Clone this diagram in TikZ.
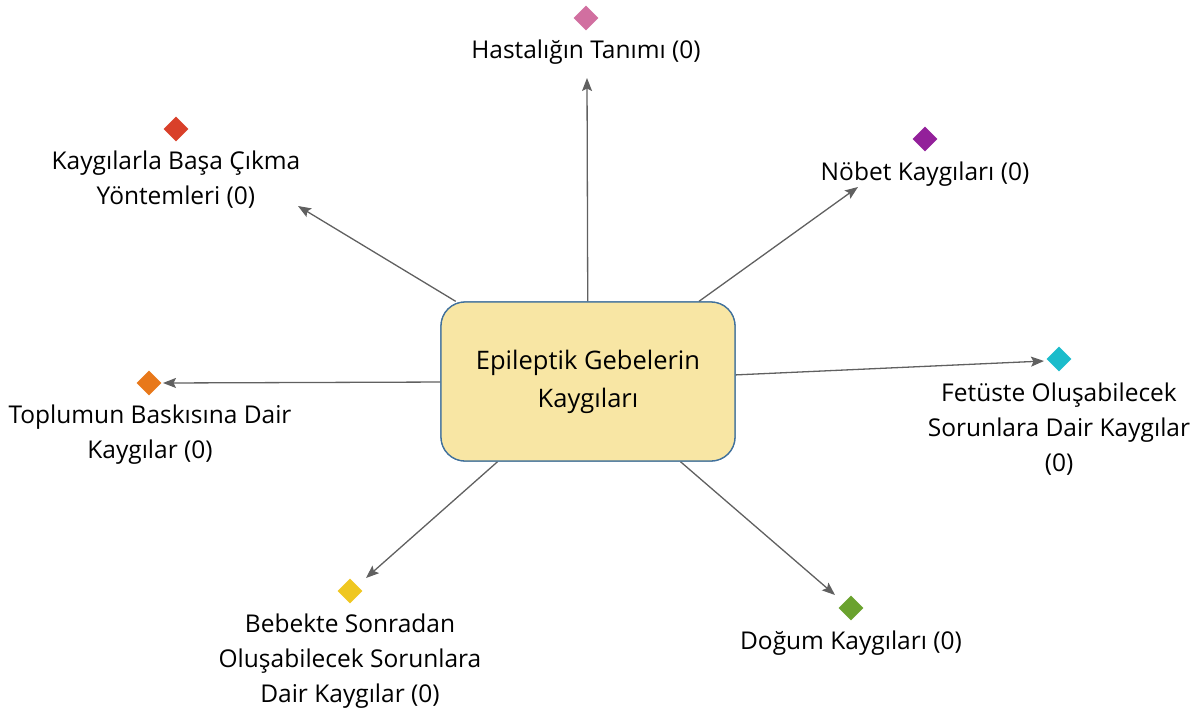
\documentclass[tikz,border=0pt]{standalone}
\usepackage{fontspec}
\setmainfont{Open Sans}
\usetikzlibrary{arrows.meta}
\definecolor{boxfill}{HTML}{F8E6A4}
\definecolor{boxline}{HTML}{41719C}
\definecolor{arr}{HTML}{606060}
\definecolor{cpink}{HTML}{D16FA0}
\definecolor{cred}{HTML}{D9402A}
\definecolor{cpurple}{HTML}{93209A}
\definecolor{corange}{HTML}{E8781A}
\definecolor{ccyan}{HTML}{1BBCCB}
\definecolor{cyellow}{HTML}{EFC720}
\definecolor{cgreen}{HTML}{6AA22E}
\begin{document}
\begin{tikzpicture}[x=1pt,y=-1pt,
  mainbox/.style={draw=boxline,line width=1.3pt,fill=boxfill,rounded corners=24pt,
    minimum width=294pt,minimum height=159pt,align=center,inner sep=0pt,
    font=\fontsize{25.5}{38}\selectfont},
  dmd/.style={fill=#1,minimum size=17.5pt,inner sep=0pt,rotate=45},
  lbl/.style={align=center,inner sep=0pt,font=\fontsize{24.5}{35}\selectfont},
  link/.style={draw=arr,line width=1.3pt,-{Stealth[length=13pt,width=10pt,inset=2.5pt]}}]
\useasboundingbox (0,0) rectangle (1201,713);
\node[mainbox] (box) at (588,381.5) {Epileptik Gebelerin\\Kaygıları};

\node[dmd=cpink] (d1) at (586,18) {};
\node[dmd=cred] (d2) at (176,129) {};
\node[dmd=cpurple] (d3) at (925,139) {};
\node[dmd=corange] (d4) at (149,383) {};
\node[dmd=ccyan] (d5) at (1059,359) {};
\node[dmd=cyellow] (d6) at (350,591) {};
\node[dmd=cgreen] (d7) at (851,608) {};

\node[lbl] (l1) at (586,52) {Hastalığın Tanımı (0)};
\node[lbl] (l2) at (176,179.5) {Kaygılarla Başa Çıkma\\Yöntemleri (0)};
\node[lbl] (l3) at (925,174) {Nöbet Kaygıları (0)};
\node[lbl] (l4) at (150,434.5) {Toplumun Baskısına Dair\\Kaygılar (0)};
\node[lbl] (l5) at (1059,429.5) {Fetüste Oluşabilecek\\Sorunlara Dair Kaygılar\\(0)};
\node[lbl] (l6) at (350,661) {Bebekte Sonradan\\Oluşabilecek Sorunlara\\Dair Kaygılar (0)};
\node[lbl] (l7) at (851,643) {Doğum Kaygıları (0)};

\coordinate (e1) at (587,78);
\coordinate (e2) at (298,206);
\coordinate (e3) at (858,187);
\coordinate (e4) at (163,383);
\coordinate (e5) at (1044,361);
\coordinate (e6) at (366,578);
\coordinate (e7) at (835,595);

\foreach \i in {1,...,7} {\draw[link] (box) -- (e\i);}
\node[mainbox] at (box) {Epileptik Gebelerin\\Kaygıları};
\end{tikzpicture}
\end{document}
